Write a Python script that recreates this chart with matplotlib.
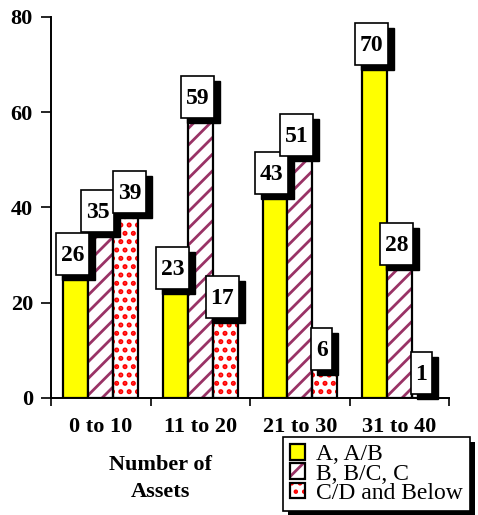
import numpy as np
import matplotlib
matplotlib.use("Agg")
import matplotlib.pyplot as plt
from matplotlib.patches import Patch, Rectangle
from matplotlib.path import Path

# data
groups = ["0 to 10", "11 to 20", "21 to 30", "31 to 40"]
series_names = ["A, A/B", "B, B/C, C", "C/D and Below"]
grade_a = [26, 23, 43, 70]
grade_b = [35, 59, 51, 28]
grade_c = [39, 17, 6, 1]

plt.rcParams['font.family'] = ['Liberation Serif', 'DejaVu Serif']
plt.rcParams['hatch.linewidth'] = 2.0


def label_box(x0, y0, width, height, mutation_size):
    # taller than wide padding, like the old callout boxes
    px = 0.2 * mutation_size
    top = 0.5 * mutation_size
    bot = 0.38 * mutation_size
    x1, y1 = x0 + width + px, y0 + height + top
    x0, y0 = x0 - px, y0 - bot
    return Path([(x0, y0), (x1, y0), (x1, y1), (x0, y1), (x0, y0)], closed=True)


def set_hatch_lw(patches, lw):
    for p in patches:
        if hasattr(p, 'set_hatch_linewidth'):
            p.set_hatch_linewidth(lw)


fig = plt.figure(figsize=(4.78, 5.15), dpi=100)
ax = fig.add_axes([0.1067, 0.2272, 0.833, 0.740])

x = np.arange(len(groups))
width = 0.25

styles = [
    dict(color='#FFFF00', hatch=None, hcolor=None, hlw=None),
    dict(color='white', hatch='//', hcolor='#993366', hlw=2.0),
    dict(color='white', hatch='..', hcolor='#FF0000', hlw=2.4),
]
series = [grade_a, grade_b, grade_c]

# a few labels were nudged sideways so the boxes sit next to each other
nudge = {(2, 0): 5.0}

for i, (vals, st) in enumerate(zip(series, styles)):
    pos = x + (i - 1) * width
    if st['hatch']:
        bars = ax.bar(pos, vals, width, color=st['color'], edgecolor=st['hcolor'],
                      hatch=st['hatch'], linewidth=0, zorder=2)
        set_hatch_lw(bars, st['hlw'])
        ax.bar(pos, vals, width, fill=False, edgecolor='black', linewidth=1.6, zorder=3)
    else:
        ax.bar(pos, vals, width, color=st['color'], edgecolor='black', linewidth=1.6, zorder=2)

    for j, (p, v) in enumerate(zip(pos, vals)):
        dx = nudge.get((i, j), 0.0)
        # black drop shadow first, then the white box on top
        ax.annotate(str(v), xy=(p, v), xytext=(2.1 + dx, 2.4), textcoords='offset points',
                    ha='center', va='bottom', fontsize=17, fontweight='bold', color='none',
                    bbox=dict(boxstyle=label_box, fc='black', ec='black'),
                    zorder=5)
        ax.annotate(str(v), xy=(p, v), xytext=(-2.2 + dx, 6.0), textcoords='offset points',
                    ha='center', va='bottom', fontsize=17, fontweight='bold', color='black',
                    bbox=dict(boxstyle=label_box, fc='white', ec='black', lw=1.2),
                    zorder=6)

ax.set_xlim(-0.5, 3.5)
ax.set_ylim(0, 80)
ax.set_yticks([0, 20, 40, 60, 80])
ax.set_xticks(np.arange(-0.5, 4, 1))
ax.set_xticklabels([])
ax.set_xticks(x, minor=True)
ax.set_xticklabels(groups, minor=True, fontsize=16, fontweight='bold')
ax.tick_params(axis='x', which='minor', length=0, pad=14)
ax.tick_params(axis='x', which='major', length=6, width=1.2, direction='out')
ax.tick_params(axis='y', length=7, width=1.2, direction='out', labelsize=16, pad=6)
for lab in ax.get_yticklabels():
    lab.set_fontweight('bold')

for s in ['top', 'right']:
    ax.spines[s].set_visible(False)
for s in ['left', 'bottom']:
    ax.spines[s].set_linewidth(1.4)

ax.text(0.276, -0.15, "Number of\nAssets", transform=ax.transAxes, ha='center', va='top',
        fontsize=16, fontweight='bold', linespacing=1.45)

handles = []
for st in styles:
    if st['hatch']:
        hp = Patch(facecolor='white', edgecolor=st['hcolor'], hatch=st['hatch'], linewidth=0)
        set_hatch_lw([hp], st['hlw'])
        handles.append((hp, Patch(fill=False, edgecolor='black', linewidth=1.6)))
    else:
        handles.append(Patch(facecolor=st['color'], edgecolor='black', linewidth=1.6))

leg = fig.legend(handles, series_names, loc='upper left', bbox_to_anchor=(0.592, 0.1515),
                 fontsize=17, frameon=True, fancybox=False, edgecolor='black', framealpha=1,
                 handlelength=0.65, handleheight=0.65, handletextpad=0.45,
                 labelspacing=-0.08, borderpad=0.3, borderaxespad=0)
leg.get_frame().set_linewidth(1.2)

# hard black shadow under the legend box
fig.canvas.draw()
bb = leg.get_window_extent().transformed(fig.transFigure.inverted())
sx, sy = 5 / 478, 5 / 515
fig.patches.append(Rectangle((bb.x0 + sx, bb.y0 - sy), bb.width, bb.height,
                             transform=fig.transFigure, facecolor='black', zorder=1))

fig.savefig("out.png", dpi=100)
